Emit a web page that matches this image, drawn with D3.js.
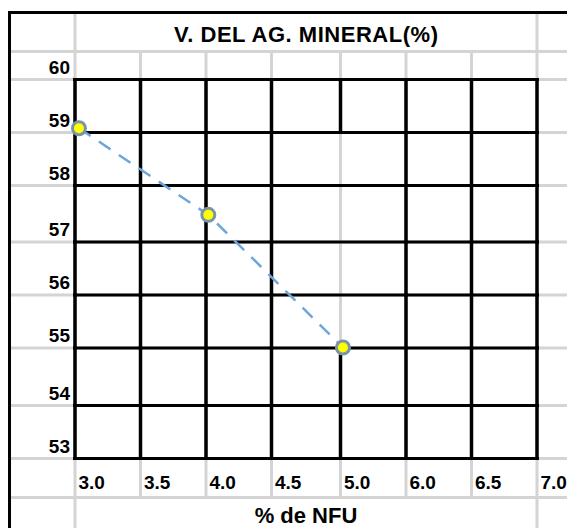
<!DOCTYPE html>
<html>
<head>
<meta charset="utf-8">
<script src="https://cdn.jsdelivr.net/npm/d3@7"></script>
<style>
  html, body { margin: 0; padding: 0; background: #ffffff; }
  svg { display: block; }
  text { font-family: "Liberation Sans", Arial, sans-serif; font-weight: bold; fill: #000; }
</style>
</head>
<body>
<script>
// ---- data ----
const chartTitle = "V. DEL AG. MINERAL(%)";
const axisTitle = "% de NFU";
const xLabels = ["3.0", "3.5", "4.0", "4.5", "5.0", "6.0", "6.5", "7.0"];
const yLabels = ["60", "59", "58", "57", "56", "55", "54", "53"];
const nfu = [3.0, 3.98, 5.0];        // % de NFU
const vma = [59.1, 57.5, 55.05];     // V. del ag. mineral (%)

// ---- sheet layout (cell borders) ----
const W = 567, H = 528;
const sheetLeft = 9.5, sheetTop = 12.5;
const colEdges = [75, 140.5, 206, 271.5, 340.5, 406, 471.5, 537];
const rowEdges = [51.5, 79.5, 132.5, 185.5, 242, 295, 348, 405.5, 458.5, 497.5];
const plotRows = rowEdges.slice(1, 9);          // thick-bordered block, 79.5 .. 458.5
const plotLeft = colEdges[0], plotRight = colEdges[colEdges.length - 1];
const plotTop = plotRows[0], plotBottom = plotRows[plotRows.length - 1];
const gray = "#d4d4d4";

const svg = d3.select("body").append("svg")
  .attr("width", W).attr("height", H)
  .attr("viewBox", `0 0 ${W} ${H}`);

// scales for the scatter overlay
const x = d3.scaleLinear().domain([2.97, 6.47]).range([plotLeft, plotRight]);
const y = d3.scaleLinear().domain([53, 60]).range([plotBottom, plotTop]);

// ---- light sheet gridlines ----
const g0 = svg.append("g").attr("stroke", gray).attr("stroke-width", 3);
rowEdges.forEach(r => {
  g0.append("line").attr("x1", sheetLeft).attr("x2", W).attr("y1", r).attr("y2", r);
});
// outer columns run full height, inner columns only across label rows
[plotLeft, plotRight].forEach(c => {
  g0.append("line").attr("x1", c).attr("x2", c).attr("y1", sheetTop).attr("y2", H);
});
colEdges.slice(1, -1).forEach(c => {
  g0.append("line").attr("x1", c).attr("x2", c).attr("y1", rowEdges[0]).attr("y2", rowEdges[rowEdges.length - 1]);
});

// ---- black borders ----
const g1 = svg.append("g").attr("stroke", "#000");
g1.append("line").attr("x1", sheetLeft - 1.5).attr("x2", W).attr("y1", sheetTop).attr("y2", sheetTop).attr("stroke-width", 3);
g1.append("line").attr("x1", sheetLeft).attr("x2", sheetLeft).attr("y1", sheetTop - 1.5).attr("y2", H).attr("stroke-width", 3);

plotRows.forEach(r => {
  g1.append("line").attr("x1", plotLeft - 2).attr("x2", plotRight + 2)
    .attr("y1", r).attr("y2", r).attr("stroke-width", 3);
});
// vertical borders, one segment per row band; the 5.0 column has no border
// between the 59 and 55 rows
colEdges.forEach((c, ci) => {
  for (let ri = 0; ri < plotRows.length - 1; ri++) {
    if (ci === 4 && ri >= 1 && ri <= 4) continue;
    g1.append("line").attr("x1", c).attr("x2", c)
      .attr("y1", plotRows[ri] - 1.5).attr("y2", plotRows[ri + 1] + 1.5)
      .attr("stroke-width", 3.5);
  }
});

// ---- texts ----
svg.append("text")
  .attr("x", (plotLeft + plotRight) / 2).attr("y", 42)
  .attr("text-anchor", "middle")
  .attr("font-size", 22)
  .attr("textLength", 264).attr("lengthAdjust", "spacing")
  .text(chartTitle);

svg.append("g").selectAll("text").data(yLabels).join("text")
  .attr("x", 70)
  .attr("y", (d, i) => rowEdges[i + 1] - 6)
  .attr("text-anchor", "end")
  .attr("font-size", 19)
  .text(d => d);

svg.append("g").selectAll("text").data(xLabels).join("text")
  .attr("x", (d, i) => colEdges[i] + 3.5)
  .attr("y", 489)
  .attr("font-size", 19)
  .text(d => d);

svg.append("text")
  .attr("x", (plotLeft + plotRight) / 2).attr("y", 523)
  .attr("text-anchor", "middle")
  .attr("font-size", 22)
  .text(axisTitle);

// ---- scatter with dashed connector ----
const pts = nfu.map((v, i) => ({ x: v, y: vma[i] }));

svg.append("path")
  .datum(pts)
  .attr("fill", "none")
  .attr("stroke", "#6ea6dc")
  .attr("stroke-width", 2.5)
  .attr("stroke-dasharray", "14,10")
  .attr("d", d3.line().x(d => x(d.x)).y(d => y(d.y)));

svg.append("g").selectAll("circle").data(pts).join("circle")
  .attr("cx", d => x(d.x))
  .attr("cy", d => y(d.y))
  .attr("r", 6.5)
  .attr("fill", "#ffff00")
  .attr("stroke", "#7a95a8")
  .attr("stroke-width", 3);
</script>
</body>
</html>
